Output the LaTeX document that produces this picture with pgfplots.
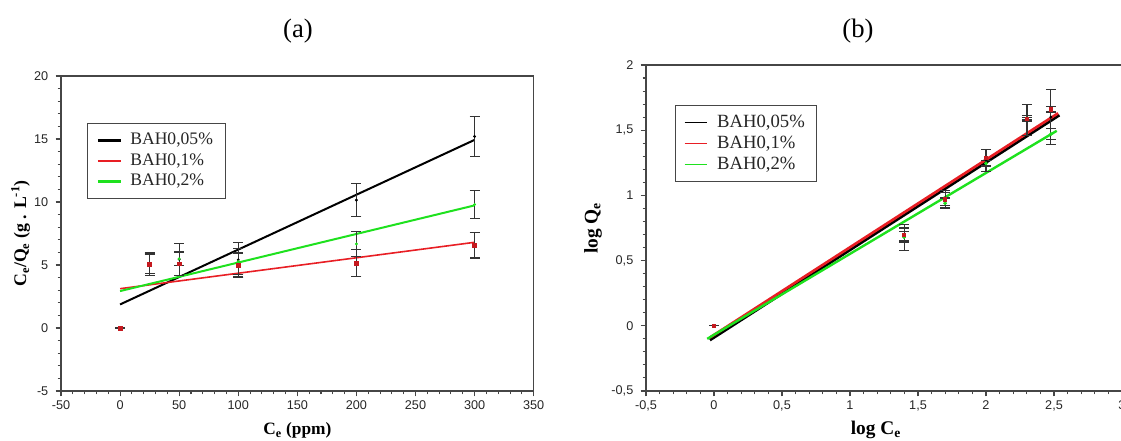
\documentclass[border=0pt]{standalone}
\usepackage{fontspec}
\setmainfont{Liberation Serif}
\newfontfamily\tickfont{Liberation Sans}
\usepackage{pgfplots}
\pgfplotsset{compat=1.18}
\usepackage{pgfplotstable}

\definecolor{fitred}{RGB}{232,30,36}
\definecolor{fitgreen}{RGB}{30,225,30}
\definecolor{axgray}{RGB}{70,70,70}

% ---- (a) Langmuir: x  y  err
\pgfplotstableread{
x y e
0 0 0
25 5.07 0.93
50 5.45 1.25
100 5.41 1.36
200 10.15 1.30
300 15.2 1.60
}\aBlack
\pgfplotstableread{
x y e
0 0 0
25 5.05 0.85
50 5.10 0.90
100 5.00 0.95
200 5.15 1.05
300 6.55 1.00
}\aRed
\pgfplotstableread{
x y e
0 0 0
25 5.10 0.75
50 5.49 0.56
100 5.28 1.04
200 6.67 1.00
300 9.80 1.10
}\aGreen
% ---- (b) Freundlich: x  y  err
\pgfplotstableread{
x y e
0 0 0
1.398 0.68 0.10
1.699 0.975 0.065
2.000 1.27 0.085
2.301 1.58 0.12
2.477 1.60 0.21
}\bBlack
\pgfplotstableread{
x y e
0 0 0
1.398 0.70 0.05
1.699 0.97 0.05
2.000 1.29 0.06
2.301 1.59 0.02
2.477 1.66 0.02
}\bRed
\pgfplotstableread{
x y e
0 0 0
1.398 0.68 0.04
1.699 0.94 0.04
2.000 1.245 0.02
2.301 1.59 0.01
2.477 1.47 0.04
}\bGreen

\pgfplotsset{
  common/.style={
    scale only axis,
    axis line style={axgray, line width=0.9pt},
    tick style={axgray, line width=0.8pt},
    tick align=outside,
    tick pos=left,
    major tick length=4pt,
    minor tick length=2.5pt,
    minor x tick num=4,
    minor y tick num=4,
    ticklabel style={font=\tickfont\fontsize{9.5}{9.5}\selectfont, text=black!85},
    yticklabel style={xshift=-2pt},
    /pgf/number format/assume math mode=true,
    /pgf/number format/use comma,
    /pgf/number format/1000 sep={},
    clip=false,
  },
  ebar/.style={
    /pgfplots/error bars/y dir=both,
    /pgfplots/error bars/y explicit,
    /pgfplots/error bars/error bar style={line width=0.85pt, color=black!80},
    /pgfplots/error bars/error mark options={rotate=90, mark size=3.75pt, line width=0.85pt, color=black!80},
  },
}

\begin{document}
\begin{tikzpicture}
\path[use as bounding box] (0,0) rectangle (840.75pt,330.75pt);

\node[font=\fontsize{20}{20}\selectfont] at (223.5pt,307.5pt) {(a)};
\node[font=\fontsize{20}{20}\selectfont] at (643.5pt,307.5pt) {(b)};

% ================= (a)
\begin{axis}[common,
  at={(45.75pt,37.5pt)}, anchor=south west,
  width=354.5pt, height=236.25pt,
  xmin=-50, xmax=350, ymin=-5, ymax=20,
  xtick={-50,0,...,350}, ytick={-5,0,...,20},
  xlabel={\textbf{C\textsubscript{e} (ppm)}},
  ylabel={\textbf{C\textsubscript{e}/Q\textsubscript{e} (g . L\textsuperscript{-1})}},
  xlabel style={at={(axis description cs:0.5,0)}, anchor=base, yshift=-33pt, font=\fontsize{13}{13}\selectfont},
  ylabel style={at={(axis description cs:0,0.5)}, anchor=center, yshift=30.3pt, font=\fontsize{13.3}{13.3}\selectfont},
  legend style={at={(rel axis cs:0.055,0.851)}, anchor=north west,
    draw=axgray, line width=0.8pt, fill=white,
    inner xsep=7pt, inner ysep=5.3pt,
    font=\fontsize{13.2}{13.2}\selectfont, text=black!85,
    nodes={text height=9pt, text depth=2.5pt, inner ysep=1.7pt, inner xsep=2.5pt},
    row sep=0.5pt,
    /tikz/every odd column/.append style={column sep=4pt}},
  legend cell align=left,
  legend image code/.code={\draw[#1, line width=1.6pt] (0pt,0pt) -- (17pt,0pt);},
]
\addplot[black, line width=1.5pt] coordinates {(0,1.87) (300,14.93)};
\addlegendentry{BAH0,05\%}
\addplot[fitred, line width=1.2pt] coordinates {(0,3.12) (300,6.80)};
\addlegendentry{BAH0,1\%}
\addplot[fitgreen, line width=1.5pt] coordinates {(0,2.93) (300,9.73)};
\addlegendentry{BAH0,2\%}

\addplot[forget plot, only marks, mark=*, mark size=0.9pt, black, ebar] table[x=x, y=y, y error=e] {\aBlack};
\addplot[forget plot, only marks, mark=*, mark size=0.9pt, fitgreen, ebar] table[x=x, y=y, y error=e] {\aGreen};
\addplot[forget plot, only marks, mark=square*, mark size=1.4pt, fitred!85!black, ebar] table[x=x, y=y, y error=e] {\aRed};
\end{axis}

% ================= (b)
\begin{axis}[common,
  at={(484.5pt,37.5pt)}, anchor=south west,
  width=362.1pt, height=244.5pt,
  xmin=-0.5, xmax=3.05, ymin=-0.5, ymax=2,
  xtick={-0.5,0,...,3}, ytick={-0.5,0,...,2},
  xlabel={\textbf{log C\textsubscript{e}}},
  ylabel={\textbf{log Q\textsubscript{e}}},
  xlabel style={at={(axis cs:1.19,-0.5)}, anchor=base, yshift=-33pt, font=\fontsize{14.5}{14.5}\selectfont},
  ylabel style={at={(axis description cs:0,0.5)}, anchor=center, yshift=39.75pt, font=\fontsize{14.5}{14.5}\selectfont},
  legend style={at={(rel axis cs:0.060,0.877)}, anchor=north west,
    draw=axgray, line width=0.8pt, fill=white,
    inner xsep=6.5pt, inner ysep=4.8pt,
    font=\fontsize{14}{14}\selectfont, text=black!85,
    nodes={text height=9.8pt, text depth=2.6pt, inner ysep=1.5pt, inner xsep=2.5pt},
    row sep=0.6pt,
    /tikz/every odd column/.append style={column sep=5pt}},
  legend cell align=left,
  legend image code/.code={\draw[#1, line width=0.8pt] (0pt,0pt) -- (16.5pt,0pt);},
]
\addplot[black, line width=2pt] coordinates {(-0.03,-0.11) (2.54,1.615)};
\addlegendentry{BAH0,05\%}
\addplot[fitred, line width=2pt] coordinates {(-0.03,-0.09) (2.53,1.63)};
\addlegendentry{BAH0,1\%}
\addplot[fitgreen, line width=1.8pt] coordinates {(-0.05,-0.10) (2.52,1.495)};
\addlegendentry{BAH0,2\%}

\addplot[forget plot, only marks, mark=*, mark size=0.9pt, black, ebar] table[x=x, y=y, y error=e] {\bBlack};
\addplot[forget plot, only marks, mark=*, mark size=1.2pt, fitgreen, ebar] table[x=x, y=y, y error=e] {\bGreen};
\addplot[forget plot, only marks, mark=square*, mark size=1.2pt, fitred!85!black, ebar] table[x=x, y=y, y error=e] {\bRed};
\end{axis}
\end{tikzpicture}
\end{document}
